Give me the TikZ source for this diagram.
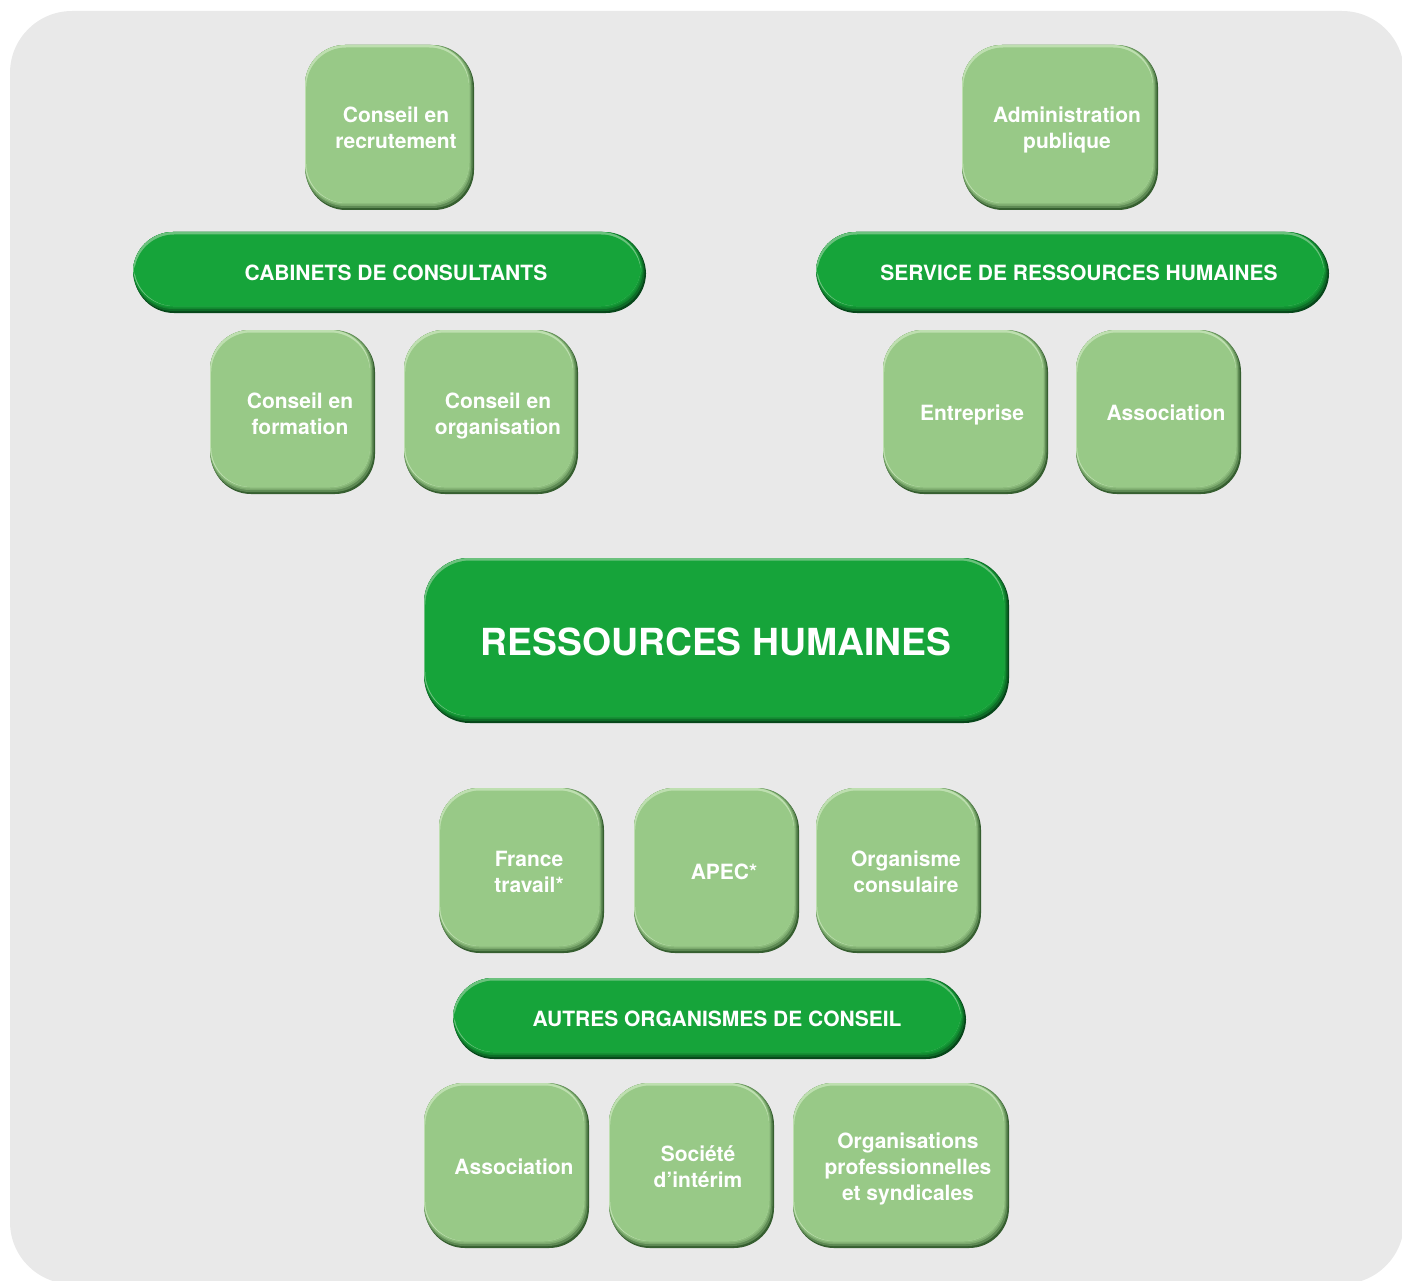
\documentclass[tikz,border=0pt]{standalone}
\usepackage{fontspec}
\setmainfont{TeX Gyre Heros}
\definecolor{bgray}{HTML}{E9E9E9}
\definecolor{lmain}{HTML}{98C987}
\definecolor{ldark}{HTML}{365F30}
\definecolor{llight}{HTML}{BEDFB0}
\definecolor{dmain}{HTML}{16A43A}
\definecolor{ddark}{HTML}{07471A}
\definecolor{dlight}{HTML}{6CC27E}
\newcommand\bevelbox[8]{%
  \fill[#7, rounded corners=#5] (#1+1,#2+2) rectangle (#3,#4);
  \fill[#7!60!#6, rounded corners=#5] (#1,#2) rectangle (#3-1.5,#4-2);
  \fill[#7!30!#6, rounded corners=#5] (#1,#2) rectangle (#3-3,#4-4);
  \fill[#7!12!#6, rounded corners=#5] (#1,#2) rectangle (#3-4,#4-5.5);
  \fill[#8, rounded corners=#5] (#1,#2) rectangle (#3-5,#4-7);
  \fill[#6, rounded corners=#5] (#1+1.2,#2+2.5) rectangle (#3-5,#4-7);
}
\newcommand\lbox[4]{\bevelbox{#1}{#2}{#3}{#4}{40}{lmain}{ldark}{llight}}
\newcommand\dbar[4]{\bevelbox{#1}{#2}{#3}{#4}{40}{dmain}{ddark}{dlight}}
\tikzset{
  txt/.style={text=white, align=center, inner sep=0pt,
    font=\fontsize{21}{26}\selectfont\bfseries},
  bigtxt/.style={text=white, inner sep=0pt,
    font=\fontsize{37.3}{44}\selectfont\bfseries}
}
\begin{document}
\begin{tikzpicture}[x=1pt,y=-1pt]
\useasboundingbox (0,0) rectangle (1402,1281);
\clip (0,0) rectangle (1402,1281);
\fill[bgray, rounded corners=62] (10,11) rectangle (1404,1284);

% top left group
\lbox{305}{45}{474}{210}
\node[txt] (rec) at (396,128) {Conseil en\\recrutement};
\dbar{133}{232}{646}{313}
\node[txt] (cab) at (396,273) {CABINETS DE CONSULTANTS};
\lbox{210}{330}{375}{494}
\node[txt] (form) at (300,413.5) {Conseil en\\formation};
\lbox{404}{330}{578}{494}
\node[txt] (orga) at (498,415.5) {Conseil en\\organisation};

% top right group
\lbox{962}{45}{1158}{210}
\node[txt] (adm) at (1067,130) {Administration\\publique};
\dbar{816}{232}{1329}{313}
\node[txt] (srv) at (1079,273) {SERVICE DE RESSOURCES HUMAINES};
\lbox{883}{330}{1048}{494}
\node[txt] (ent) at (972,415) {Entreprise};
\lbox{1076}{330}{1241}{494}
\node[txt] (asso1) at (1166,413) {Association};

% centre
\bevelbox{424}{558}{1009}{723}{45}{dmain}{ddark}{dlight}
\node[bigtxt] (rh) at (716,642) {RESSOURCES HUMAINES};

% bottom group
\lbox{439}{788}{604}{953}
\node[txt] (ft) at (529,872) {France\\travail*};
\lbox{634}{788}{799}{953}
\node[txt] (apec) at (724,872) {APEC*};
\lbox{816}{788}{981}{953}
\node[txt] (cons) at (906,872) {Organisme\\consulaire};
\dbar{453}{978}{966}{1059}
\node[txt] (aut) at (717,1019) {AUTRES ORGANISMES DE CONSEIL};
\lbox{424}{1083}{589}{1248}
\node[txt] (asso2) at (514,1167) {Association};
\lbox{609}{1083}{774}{1248}
\node[txt] (soc) at (698,1167) {Société\\d’intérim};
\lbox{793}{1083}{1009}{1248}
\node[txt] (orgp) at (908,1168.5) {Organisations\\professionnelles\\et syndicales};
\end{tikzpicture}
\end{document}
